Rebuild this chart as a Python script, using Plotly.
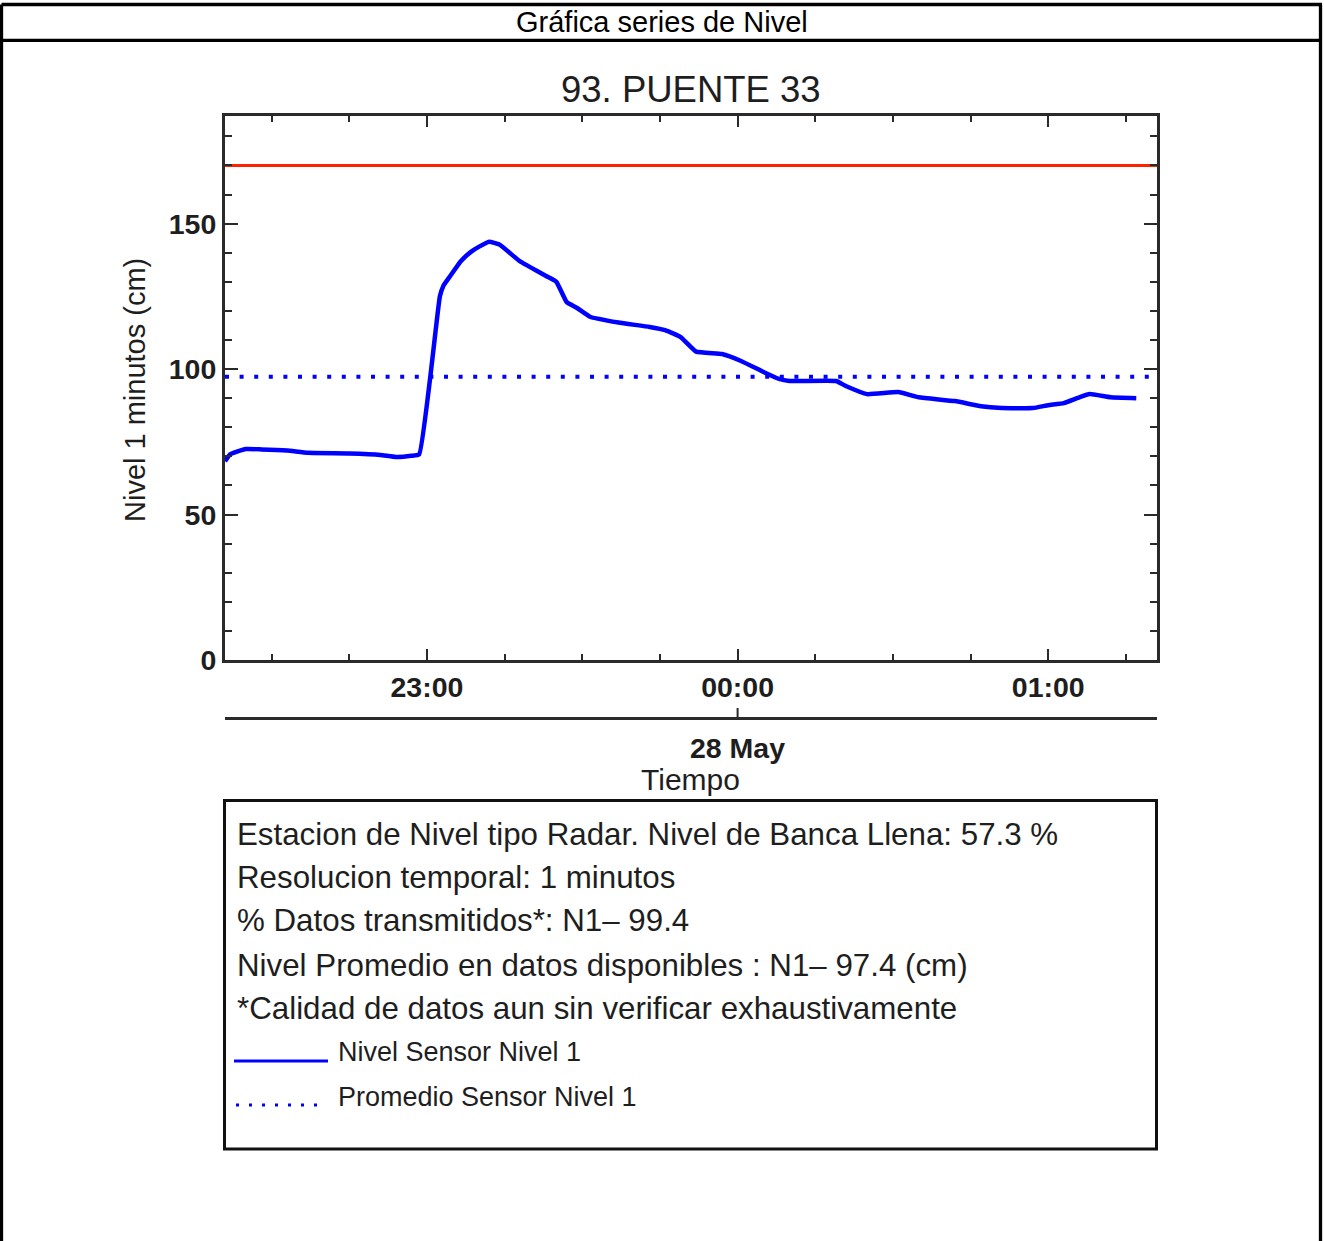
import plotly.graph_objects as go

W, H = 1324, 1257      # figure size
REF_H = 1241           # reference picture height used for placement fractions

# ---------------- data ----------------
tiempo = [
    "2019-05-27 22:21:00", "2019-05-27 22:22:00", "2019-05-27 22:25:00", "2019-05-27 22:28:00",
    "2019-05-27 22:33:00", "2019-05-27 22:37:00", "2019-05-27 22:45:00", "2019-05-27 22:51:00",
    "2019-05-27 22:54:00", "2019-05-27 22:57:00", "2019-05-27 22:58:30", "2019-05-27 23:00:40",
    "2019-05-27 23:01:40", "2019-05-27 23:02:30", "2019-05-27 23:03:10", "2019-05-27 23:04:30",
    "2019-05-27 23:06:30", "2019-05-27 23:08:30", "2019-05-27 23:10:00", "2019-05-27 23:12:00",
    "2019-05-27 23:14:00", "2019-05-27 23:18:00", "2019-05-27 23:23:00", "2019-05-27 23:25:00",
    "2019-05-27 23:27:00", "2019-05-27 23:29:00", "2019-05-27 23:31:30", "2019-05-27 23:37:00",
    "2019-05-27 23:43:00", "2019-05-27 23:46:00", "2019-05-27 23:49:00", "2019-05-27 23:52:00",
    "2019-05-27 23:57:00", "2019-05-28 00:00:40", "2019-05-28 00:05:00", "2019-05-28 00:08:00",
    "2019-05-28 00:10:00", "2019-05-28 00:19:00", "2019-05-28 00:21:00", "2019-05-28 00:25:00",
    "2019-05-28 00:31:00", "2019-05-28 00:35:00", "2019-05-28 00:42:00", "2019-05-28 00:47:00",
    "2019-05-28 00:51:00", "2019-05-28 00:57:00", "2019-05-28 01:00:00", "2019-05-28 01:03:00",
    "2019-05-28 01:06:00", "2019-05-28 01:08:00", "2019-05-28 01:12:00", "2019-05-28 01:17:00",
]
nivel = [
    68.3, 70.7, 72.5, 72.4,
    72.0, 71.2, 71.0, 70.5,
    69.8, 70.2, 70.7, 97.6,
    113.0, 125.0, 128.6, 132.0,
    137.0, 140.3, 142.0, 143.8,
    142.8, 137.0, 132.0, 130.0,
    123.0, 121.0, 118.0, 116.0,
    114.5, 113.4, 111.0, 106.0,
    105.2, 102.8, 99.0, 96.6,
    95.9, 95.9, 94.1, 91.4,
    92.1, 90.3, 89.0, 87.2,
    86.6, 86.6, 87.6, 88.3,
    90.3, 91.4, 90.3, 90.0,
]
nivel_promedio = 97.4
nivel_banca_llena = 170.0
x_inicio = "2019-05-27 22:21:00"
x_fin = "2019-05-28 01:21:00"
x_tick0 = "2019-05-27 23:00:00"
x_fecha = "2019-05-28 00:00:00"
y_min, y_max = 0, 187.0

titulo_pagina = "Gráfica series de Nivel"
titulo_grafica = "93. PUENTE 33"
titulo_y = "Nivel 1 minutos (cm)"
titulo_x = "Tiempo"
etiqueta_fecha = "28 May"
info_lineas = [
    "Estacion de Nivel tipo Radar. Nivel de Banca Llena: 57.3 %",
    "Resolucion temporal: 1 minutos",
    "% Datos transmitidos*: N1\u2013 99.4",
    "Nivel Promedio en datos disponibles : N1\u2013 97.4 (cm)",
    "*Calidad de datos aun sin verificar exhaustivamente",
]
leyenda_nombres = ["Nivel Sensor Nivel 1", "Promedio Sensor Nivel 1"]

# ---------------- helpers ----------------
def px(x):
    return x / W

def py(y):
    return 1 - y / REF_H

FONT = "Liberation Sans, Arial, Helvetica, sans-serif"
BLUE = "#0000ff"
RED = "#ff2200"
AX = "#2a2a2a"
TXT = "#1e1e1e"

fig = go.Figure()
fig.add_trace(go.Scatter(x=tiempo, y=nivel, mode="lines",
                         line=dict(color=BLUE, width=4.5, shape="spline", smoothing=0.35),
                         name=leyenda_nombres[0]))
fig.add_trace(go.Scatter(x=[x_inicio, x_fin], y=[nivel_promedio, nivel_promedio], mode="lines",
                         line=dict(color=BLUE, width=4, dash="4px,10.6px"), name=leyenda_nombres[1]))
fig.add_trace(go.Scatter(x=[x_inicio, x_fin], y=[nivel_banca_llena, nivel_banca_llena], mode="lines",
                         line=dict(color=RED, width=3), name="Banca llena"))

tickfont = dict(family=FONT, size=28.5, color=TXT, weight="bold")

fig.update_layout(
    width=W, height=H,
    margin=dict(l=0, r=0, t=0, b=0),
    paper_bgcolor="white", plot_bgcolor="white",
    showlegend=False,
    xaxis=dict(
        type="date", range=[x_inicio, x_fin],
        domain=[px(225), px(1157)],
        showline=True, linecolor=AX, linewidth=3, mirror="allticks",
        ticks="inside", ticklen=11, tickwidth=2, tickcolor=AX,
        tick0=x_tick0, dtick=3600000, tickformat="%H:%M",
        tickfont=tickfont,
        minor=dict(ticks="inside", dtick=900000, tick0=x_tick0, ticklen=6, tickwidth=2, tickcolor=AX),
        showgrid=False, zeroline=False,
    ),
    yaxis=dict(
        range=[y_min, y_max],
        domain=[py(660), py(116)],
        showline=True, linecolor=AX, linewidth=3, mirror="allticks",
        ticks="inside", ticklen=13, tickwidth=2, tickcolor=AX,
        tick0=0, dtick=50, tickfont=tickfont,
        minor=dict(ticks="inside", dtick=10, tick0=0, ticklen=7, tickwidth=2, tickcolor=AX),
        showgrid=False, zeroline=False,
    ),
)

shapes = []
# page frame
for (x0, y0, x1, y1) in [(1.5, 4.5, 1322, 4.5), (1.5, 4.5, 1.5, 1290), (1320.5, 4.5, 1320.5, 1290),
                         (1.5, 40.3, 1322, 40.3)]:
    shapes.append(dict(type="line", xref="paper", yref="paper", x0=px(x0), y0=py(y0), x1=px(x1), y1=py(y1),
                       line=dict(color="black", width=3.3)))
# secondary date axis line
shapes.append(dict(type="line", xref="paper", yref="paper", x0=px(225), x1=px(1157), y0=py(718.5), y1=py(718.5),
                   line=dict(color=AX, width=3)))
shapes.append(dict(type="line", xref="x", yref="paper", x0=x_fecha, x1=x_fecha, y0=py(718.5), y1=py(708),
                   line=dict(color=AX, width=2)))
# info box
shapes.append(dict(type="rect", xref="paper", yref="paper", x0=px(224.5), x1=px(1156.5), y0=py(800.5), y1=py(1149),
                   line=dict(color="#111", width=3)))
# legend samples
shapes.append(dict(type="line", xref="paper", yref="paper", x0=px(234), x1=px(328), y0=py(1061), y1=py(1061),
                   line=dict(color=BLUE, width=3)))
shapes.append(dict(type="line", xref="paper", yref="paper", x0=px(236), x1=px(324), y0=py(1105), y1=py(1105),
                   line=dict(color=BLUE, width=3, dash="3px,10px")))
fig.update_layout(shapes=shapes)

ann = []
ann.append(dict(text=titulo_pagina, x=px(662), y=py(22), xref="paper", yref="paper", showarrow=False,
                xanchor="center", yanchor="middle", font=dict(family=FONT, size=29, color="black")))
ann.append(dict(text=titulo_grafica, x=px(691), y=py(90), xref="paper", yref="paper", showarrow=False,
                xanchor="center", yanchor="middle", font=dict(family=FONT, size=36.5, color=TXT)))
ann.append(dict(text=titulo_y, x=px(135), y=py(390), xref="paper", yref="paper", showarrow=False, textangle=-90,
                xanchor="center", yanchor="middle", font=dict(family=FONT, size=29, color=TXT)))
ann.append(dict(text=etiqueta_fecha, x=x_fecha, y=py(748), xref="x", yref="paper", showarrow=False,
                xanchor="center", yanchor="middle", font=dict(family=FONT, size=28.5, color=TXT, weight="bold")))
ann.append(dict(text=titulo_x, x=px(691), y=py(779), xref="paper", yref="paper", showarrow=False,
                xanchor="center", yanchor="middle", font=dict(family=FONT, size=30, color=TXT)))
for i, t in enumerate(info_lineas):
    yy = [834, 877, 920, 965, 1008][i]
    ann.append(dict(text=t, x=px(235), y=py(yy), xref="paper", yref="paper", showarrow=False,
                    xanchor="left", yanchor="middle", font=dict(family=FONT, size=31.3, color=TXT)))
for nombre, yy in zip(leyenda_nombres, [1052, 1097]):
    ann.append(dict(text=nombre, x=px(336), y=py(yy), xref="paper", yref="paper", showarrow=False,
                    xanchor="left", yanchor="middle", font=dict(family=FONT, size=27, color=TXT)))
fig.update_layout(annotations=ann)

fig.write_html("out.html", config={"displayModeBar": False},
               post_script="document.documentElement.style.margin='0';document.body.style.margin='0';document.body.style.overflow='hidden';")
